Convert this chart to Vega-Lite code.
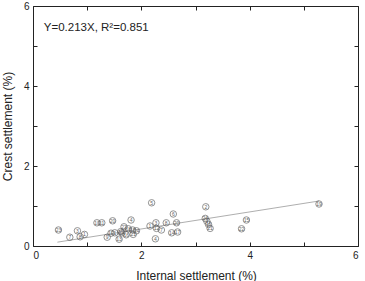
{
  "$schema": "https://vega.github.io/schema/vega-lite/v6.json",
  "width": 325,
  "height": 240,
  "autosize": {"type": "none"},
  "padding": {"left": 33, "top": 6, "right": 7, "bottom": 35},
  "background": "white",
  "config": {
    "view": {"stroke": "#222", "strokeWidth": 1},
    "font": "Liberation Sans",
    "axis": {"grid": false, "domain": false, "tickColor": "#222", "labelColor": "#222", "titleColor": "#222", "labelFont": "Liberation Sans", "titleFont": "Liberation Sans", "titleFontWeight": "normal"}
  },
  "datasets": {
    "pts": [
      {"x": 0.47, "y": 0.40, "id": "23"},
      {"x": 0.68, "y": 0.22, "id": "7"},
      {"x": 0.82, "y": 0.38, "id": "3"},
      {"x": 0.87, "y": 0.23, "id": "8"},
      {"x": 0.95, "y": 0.29, "id": "1"},
      {"x": 1.18, "y": 0.58, "id": "10"},
      {"x": 1.27, "y": 0.58, "id": "11"},
      {"x": 1.47, "y": 0.63, "id": "20"},
      {"x": 1.37, "y": 0.22, "id": "9"},
      {"x": 1.44, "y": 0.32, "id": "12"},
      {"x": 1.51, "y": 0.33, "id": "1"},
      {"x": 1.59, "y": 0.17, "id": "13"},
      {"x": 1.64, "y": 0.33, "id": "14"},
      {"x": 1.72, "y": 0.28, "id": "16"},
      {"x": 1.68, "y": 0.48, "id": "22"},
      {"x": 1.76, "y": 0.43, "id": "18"},
      {"x": 1.81, "y": 0.65, "id": "4"},
      {"x": 1.84, "y": 0.40, "id": "17"},
      {"x": 1.85, "y": 0.29, "id": "21"},
      {"x": 1.91, "y": 0.38, "id": "24"},
      {"x": 1.62, "y": 0.36, "id": "15"},
      {"x": 2.19, "y": 1.08, "id": "5"},
      {"x": 2.16, "y": 0.50, "id": "1"},
      {"x": 2.27, "y": 0.58, "id": "3"},
      {"x": 2.26, "y": 0.18, "id": "4"},
      {"x": 2.28, "y": 0.44, "id": "12"},
      {"x": 2.37, "y": 0.40, "id": "7"},
      {"x": 2.46, "y": 0.58, "id": "8"},
      {"x": 2.59, "y": 0.80, "id": "6"},
      {"x": 2.65, "y": 0.58, "id": "20"},
      {"x": 2.56, "y": 0.33, "id": "14"},
      {"x": 2.67, "y": 0.35, "id": "17"},
      {"x": 3.19, "y": 0.98, "id": "2"},
      {"x": 3.18, "y": 0.69, "id": "24"},
      {"x": 3.21, "y": 0.62, "id": "9"},
      {"x": 3.24, "y": 0.54, "id": "16"},
      {"x": 3.27, "y": 0.44, "id": "21"},
      {"x": 3.85, "y": 0.43, "id": "22"},
      {"x": 3.94, "y": 0.65, "id": "15"},
      {"x": 5.28, "y": 1.05, "id": "19"}
    ],
    "fit": [
      {"x": 0.45, "y": 0.096},
      {"x": 5.28, "y": 1.125}
    ],
    "note": [
      {"x": 0.2, "y": 5.45, "t": "Y=0.213X, R²=0.851"}
    ]
  },
  "resolve": {"axis": {"x": "independent", "y": "independent"}},
  "layer": [
    {
      "data": {"name": "fit"},
      "mark": {"type": "line", "color": "#999", "strokeWidth": 0.8},
      "encoding": {
        "x": {"field": "x", "type": "quantitative", "scale": {"domain": [0, 6], "nice": false, "zero": false},
          "axis": {"orient": "bottom", "values": [0,1,2,3,4,5,6], "labelExpr": "datum.value % 2 == 0 ? datum.label : ''", "tickSize": -4, "labelPadding": 8, "labelFontSize": 10, "title": "Internal settlement (%)", "titleFontSize": 12, "titleX": 163, "titleY": 24, "titleAnchor": "middle", "titleBaseline": "top"}},
        "y": {"field": "y", "type": "quantitative", "scale": {"domain": [0, 6], "nice": false, "zero": false},
          "axis": {"orient": "left", "values": [0,1,2,3,4,5,6], "labelExpr": "datum.value % 2 == 0 ? datum.label : ''", "tickSize": -4, "labelPadding": 8, "labelFontSize": 10, "title": "Crest settlement (%)", "titleFontSize": 12, "titleX": -22, "titleY": 120, "titleAngle": -90, "titleAnchor": "middle", "titleBaseline": "alphabetic"}}
      }
    },
    {
      "data": {"name": "pts"},
      "mark": {"type": "point", "shape": "circle", "filled": false, "size": 42, "stroke": "#555", "strokeWidth": 0.9},
      "encoding": {
        "x": {"field": "x", "type": "quantitative", "scale": {"domain": [0, 6], "nice": false, "zero": false},
          "axis": {"orient": "top", "values": [0,1,2,3,4,5,6], "labels": false, "tickSize": -4, "title": null}},
        "y": {"field": "y", "type": "quantitative", "scale": {"domain": [0, 6], "nice": false, "zero": false},
          "axis": {"orient": "right", "values": [0,1,2,3,4,5,6], "labels": false, "tickSize": -4, "title": null}}
      }
    },
    {
      "data": {"name": "pts"},
      "mark": {"type": "text", "fontSize": 5, "color": "#666", "baseline": "middle", "align": "center"},
      "encoding": {
        "x": {"field": "x", "type": "quantitative", "axis": null},
        "y": {"field": "y", "type": "quantitative", "axis": null},
        "text": {"field": "id"}
      }
    },
    {
      "data": {"name": "note"},
      "mark": {"type": "text", "fontSize": 11.5, "color": "#222", "align": "left", "baseline": "middle"},
      "encoding": {
        "x": {"field": "x", "type": "quantitative", "axis": null},
        "y": {"field": "y", "type": "quantitative", "axis": null},
        "text": {"field": "t"}
      }
    }
  ]
}
